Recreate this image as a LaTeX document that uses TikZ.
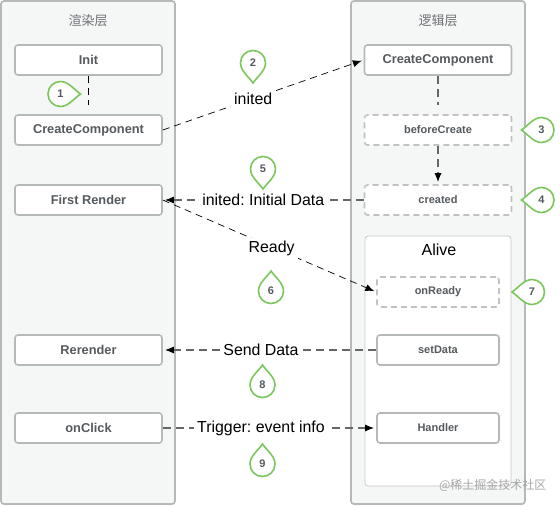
\documentclass[tikz,border=0pt]{standalone}
\usepackage{fontspec}
\setmainfont{Liberation Sans}
\newfontfamily\cjk{Noto Sans CJK SC}
\usetikzlibrary{arrows.meta}
\definecolor{figgray}{HTML}{555A5E}
\definecolor{figline}{HTML}{B6B9B9}
\definecolor{figpanel}{HTML}{F5F6F6}
\definecolor{figgreen}{HTML}{7CC65E}
\tikzset{
  panel/.style={draw=figline, fill=figpanel, line width=1.7pt, rounded corners=3pt, minimum width=174pt, minimum height=503pt},
  alive/.style={draw=figline!80!white, fill=white, line width=0.7pt, rounded corners=3pt, minimum width=146pt, minimum height=250pt},
  title/.style={font=\cjk\fontsize{13}{15}\selectfont, text=figgray!85!white},
  box/.style={draw=figline, fill=white, line width=1.6pt, rounded corners=3pt, minimum width=147pt, minimum height=30pt, text=figgray, font=\fontsize{12.8}{14}\selectfont\bfseries},
  small/.style={font=\fontsize{11}{12}\selectfont\bfseries},
  dbox/.style={box, small, draw=figline!85!white, dash pattern=on 6pt off 4pt},
  inner/.style={minimum width=122pt, minimum height=30pt},
  lab/.style={fill=white, text=black, inner sep=3pt, font=\fontsize{15.9}{17}\selectfont\frenchspacing},
  thin link/.style={black, line width=0.7pt, dash pattern=on 7pt off 5pt},
  thick link/.style={black!60!white, line width=1.2pt, dash pattern=on 8pt off 5pt},
  tipped/.style={-{Latex[black,length=9pt,width=7pt]}, shorten >=2pt},
  dropline/.style={draw=figgreen, fill=white, line width=1.6pt},
  dropno/.style={text=figgray, inner sep=0pt, font=\fontsize{11}{12}\selectfont\bfseries},
}
\newcommand{\dropmark}[4]{
  \draw[dropline,shift={(#2)},rotate=#3] (0,20) .. controls (-4,14) and (-12.5,8) .. (-12.5,0)
    .. controls (-12.5,-7) and (-7,-12.5) .. (0,-12.5) .. controls (7,-12.5) and (12.5,-7) .. (12.5,0)
    .. controls (12.5,8) and (4,14) .. cycle;
  \node[dropno] (#1) at (#2) {#4};
}
\begin{document}
\begin{tikzpicture}[x=1pt,y=-1pt]
\useasboundingbox (0,0) rectangle (560,506);
% two layers
\node[panel] (render) at (88,252.5) {};
\node[panel] (logic) at (438,252.5) {};
\node[alive] (alivebox) at (438,361) {};
\node[title] (rendertitle) at (88,21) {渲染层};
\node[title] (logictitle) at (438,21) {逻辑层};
\node[font=\fontsize{16}{18}\selectfont] (alivetitle) at (439,250) {Alive};
% left boxes
\node[box] (init) at (88.5,60) {Init};
\node[box] (create) at (88.5,130) {CreateComponent};
\node[box] (first) at (88.5,200) {First Render};
\node[box] (rerender) at (88.5,350) {Rerender};
\node[box] (click) at (88.5,428) {onClick};
% right boxes
\node[box] (rcreate) at (438,60) {CreateComponent};
\node[dbox] (before) at (438,130) {beforeCreate};
\node[dbox] (created) at (438,200) {created};
\node[dbox,inner] (ready) at (438,292) {onReady};
\node[box,small,inner] (setdata) at (438,350) {setData};
\node[box,small,inner] (handler) at (438,428) {Handler};
% connectors
\coordinate (initend) at (88.5,105);
\coordinate (rcreateend) at (438,105);
\draw[thin link] (init) -- (initend);
\draw[thick link] (rcreate) -- (rcreateend);
\draw[thick link,tipped] (before) -- (created);
\draw[thin link,tipped] (create.east) -- node[lab,pos=.45] (lab2) {inited} (rcreate.west);
\draw[thick link,tipped] (created.west) -- node[lab,pos=.5] (lab5) {inited: Initial Data} (first.east);
\draw[thin link,tipped] (first.east) -- node[lab,pos=.51,yshift=-1.5pt] (lab6) {Ready} (ready.west);
\draw[thick link,tipped] (setdata.west) -- node[lab,pos=.54] (lab8) {Send Data} (rerender.east);
\draw[thick link,tipped] (click.east) -- node[lab,pos=.46] (lab9) {Trigger: event info} (handler.west);
% numbered drops
\dropmark{d1}{60.5,94}{90}{1}
\dropmark{d2}{253,63}{0}{2}
\dropmark{d3}{541.5,130}{-90}{3}
\dropmark{d4}{541.5,200}{-90}{4}
\dropmark{d5}{263,169}{0}{5}
\dropmark{d6}{271,291}{180}{6}
\dropmark{d7}{532,292}{-90}{7}
\dropmark{d8}{262.5,385}{180}{8}
\dropmark{d9}{262.5,464}{180}{9}
\node[font=\cjk\fontsize{12}{14}\selectfont, text=black!35!white, anchor=east] (mark) at (550,485) {@稀土掘金技术社区};
\end{tikzpicture}
\end{document}
